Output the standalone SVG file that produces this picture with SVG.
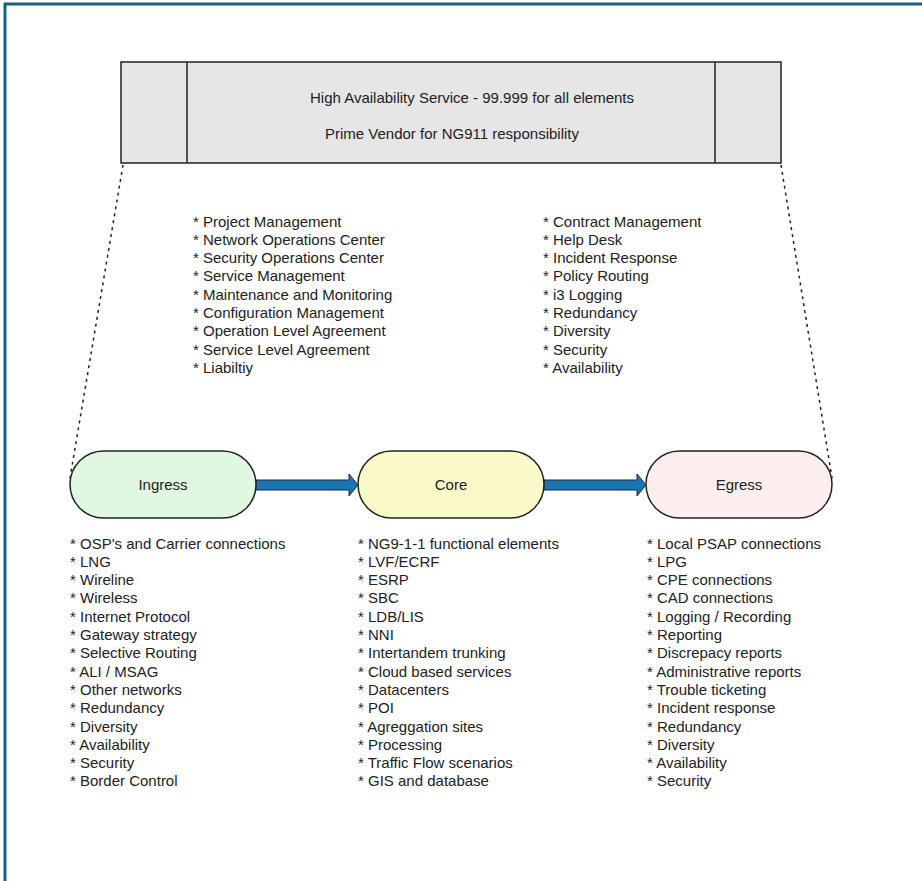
<svg xmlns="http://www.w3.org/2000/svg" width="922" height="881" viewBox="0 0 922 881">
<defs>
<style>
text{font-family:"Liberation Sans",Arial,sans-serif;font-size:15px;fill:#222}
.c{text-anchor:middle}
.pill{stroke:#222;stroke-width:1.5}
.dot{stroke:#222;stroke-width:1.5;stroke-dasharray:3,4;fill:none}
.arr{fill:#1a73b3;stroke:#1a2a3a;stroke-width:1}
</style>
</defs>
<rect width="922" height="881" fill="#fff"/>
<path d="M5,881 V4 H922" fill="none" stroke="#1a5f80" stroke-width="3"/>
<g id="top">
<rect x="121" y="62" width="660" height="101" fill="#e6e6e6" stroke="#222" stroke-width="1.5"/>
<line x1="187" y1="62" x2="187" y2="163" stroke="#222" stroke-width="1.5"/>
<line x1="715" y1="62" x2="715" y2="163" stroke="#222" stroke-width="1.5"/>
<text class="c" x="472" y="103">High Availability Service - 99.999 for all elements</text>
<text class="c" x="452" y="139">Prime Vendor for NG911 responsibility</text>
</g>
<g id="connectors">
<line class="dot" x1="123" y1="165" x2="70" y2="478"/>
<line class="dot" x1="781" y1="165" x2="832" y2="478"/>
<path class="arr" d="M256,480 H349 V474 L358,485 L349,496 V490 H256 Z"/>
<path class="arr" d="M544,480 H637 V474 L646,485 L637,496 V490 H544 Z"/>
</g>
<g id="ingress">
<rect class="pill" x="70" y="451" width="186" height="67" rx="33.5" fill="#e0f8e0"/>
<text class="c" x="163" y="489.5">Ingress</text>
</g>
<g id="core">
<rect class="pill" x="358" y="451" width="186" height="67" rx="33.5" fill="#fafac8"/>
<text class="c" x="451" y="489.5">Core</text>
</g>
<g id="egress">
<rect class="pill" x="646" y="451" width="186" height="67" rx="33.5" fill="#fdeeee"/>
<text class="c" x="739" y="489.5">Egress</text>
</g>
<g id="list-mgmt">
<text x="193" y="226.5">* Project Management</text>
<text x="193" y="244.8">* Network Operations Center</text>
<text x="193" y="263.1">* Security Operations Center</text>
<text x="193" y="281.4">* Service Management</text>
<text x="193" y="299.7">* Maintenance and Monitoring</text>
<text x="193" y="318">* Configuration Management</text>
<text x="193" y="336.3">* Operation Level Agreement</text>
<text x="193" y="354.6">* Service Level Agreement</text>
<text x="193" y="372.9">* Liabiltiy</text>
</g>
<g id="list-contract">
<text x="543" y="226.5">* Contract Management</text>
<text x="543" y="244.8">* Help Desk</text>
<text x="543" y="263.1">* Incident Response</text>
<text x="543" y="281.4">* Policy Routing</text>
<text x="543" y="299.7">* i3 Logging</text>
<text x="543" y="318">* Redundancy</text>
<text x="543" y="336.3">* Diversity</text>
<text x="543" y="354.6">* Security</text>
<text x="543" y="372.9">* Availability</text>
</g>
<g id="list-ingress">
<text x="70" y="548.5">* OSP's and Carrier connections</text>
<text x="70" y="566.8">* LNG</text>
<text x="70" y="585.1">* Wireline</text>
<text x="70" y="603.4">* Wireless</text>
<text x="70" y="621.7">* Internet Protocol</text>
<text x="70" y="640">* Gateway strategy</text>
<text x="70" y="658.3">* Selective Routing</text>
<text x="70" y="676.6">* ALI / MSAG</text>
<text x="70" y="694.9">* Other networks</text>
<text x="70" y="713.2">* Redundancy</text>
<text x="70" y="731.5">* Diversity</text>
<text x="70" y="749.8">* Availability</text>
<text x="70" y="768.1">* Security</text>
<text x="70" y="786.4">* Border Control</text>
</g>
<g id="list-core">
<text x="358" y="548.5">* NG9-1-1 functional elements</text>
<text x="358" y="566.8">* LVF/ECRF</text>
<text x="358" y="585.1">* ESRP</text>
<text x="358" y="603.4">* SBC</text>
<text x="358" y="621.7">* LDB/LIS</text>
<text x="358" y="640">* NNI</text>
<text x="358" y="658.3">* Intertandem trunking</text>
<text x="358" y="676.6">* Cloud based services</text>
<text x="358" y="694.9">* Datacenters</text>
<text x="358" y="713.2">* POI</text>
<text x="358" y="731.5">* Agreggation sites</text>
<text x="358" y="749.8">* Processing</text>
<text x="358" y="768.1">* Traffic Flow scenarios</text>
<text x="358" y="786.4">* GIS and database</text>
</g>
<g id="list-egress">
<text x="647" y="548.5">* Local PSAP connections</text>
<text x="647" y="566.8">* LPG</text>
<text x="647" y="585.1">* CPE connections</text>
<text x="647" y="603.4">* CAD connections</text>
<text x="647" y="621.7">* Logging / Recording</text>
<text x="647" y="640">* Reporting</text>
<text x="647" y="658.3">* Discrepacy reports</text>
<text x="647" y="676.6">* Administrative reports</text>
<text x="647" y="694.9">* Trouble ticketing</text>
<text x="647" y="713.2">* Incident response</text>
<text x="647" y="731.5">* Redundancy</text>
<text x="647" y="749.8">* Diversity</text>
<text x="647" y="768.1">* Availability</text>
<text x="647" y="786.4">* Security</text>
</g>
</svg>
